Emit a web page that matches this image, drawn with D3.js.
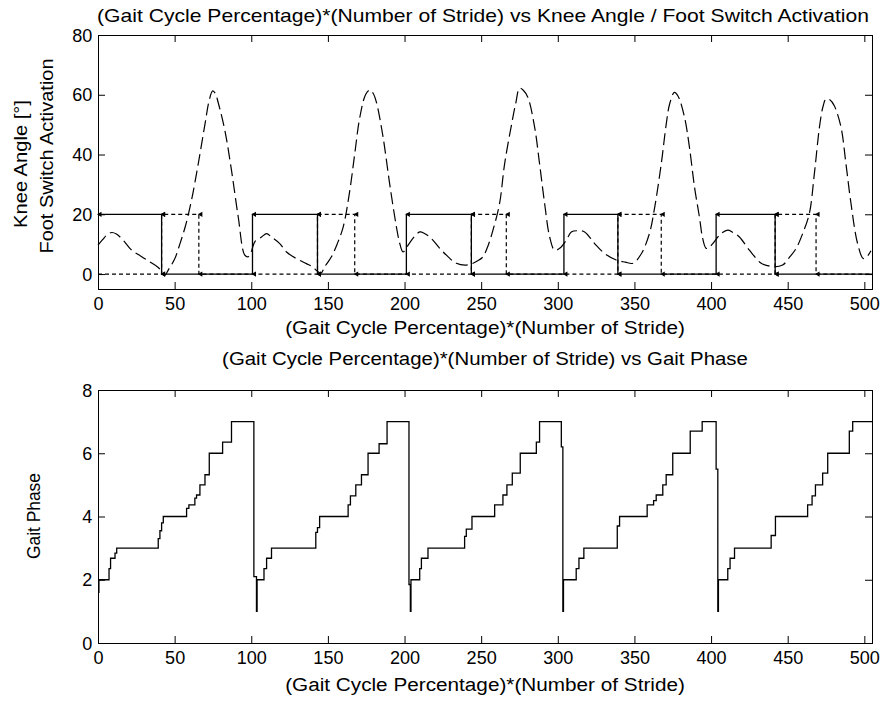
<!DOCTYPE html>
<html>
<head>
<meta charset="utf-8">
<title>Gait Cycle vs Knee Angle / Gait Phase</title>
<style>
  html, body { margin: 0; padding: 0; background: #fff; }
  svg text { font-family: "Liberation Sans", Arial, sans-serif; fill: #000; }
</style>
</head>
<body>
<script src="https://cdnjs.cloudflare.com/ajax/libs/d3/7.8.5/d3.min.js"></script>
<div id="chart"></div>
<script>

// tick values
var xTicks = [0, 50, 100, 150, 200, 250, 300, 350, 400, 450, 500]
var kneeTicks = [0, 20, 40, 60, 80]
var phaseTicks = [0, 2, 4, 6, 8]

// knee angle [deg]: [x, angle]
var kneeAngle = [
  [0,9.7],[3,11.5],[6,13.2],[9,13.9],[12,13.4],[16.5,11.3],[22,8],[28,6],[34,4],[39.3,2.2],
  [42,0.5],[43.5,-0.5],[46,1.5],[50,5],[53.5,10.2],[57,16],[61,24.7],[65.4,36.9],[69.8,50.2],
  [72.5,58],[74.8,61.3],[76.5,60.5],[78.4,57.4],[82.8,48],[87.1,34.7],[91.5,19.1],[95.8,6.3],
  [98,5.8],[100,7.5],[102.3,10.8],[106.7,12.4],[110,13.5],[113.2,12.4],[118.6,10.2],[123,7.4],
  [130,5],[136,3.5],[140,2.4],[143,1.0],[145.5,0.3],[148,2.5],[152.3,5.8],[156,10],[160,15.8],
  [164.3,28],[167.5,40.2],[170.8,52.4],[174.7,60.2],[177.3,61.6],[179.5,60.5],[181.7,57.4],
  [186,45.8],[190.3,30.2],[194.7,15.8],[197,10],[199,7.4],[201.5,9],[204.5,11.3],[209.9,14.1],
  [213,13.6],[217.5,11.9],[223,8.6],[228,6],[233.8,3.6],[240.3,3],[244.7,3.6],[248,4.5],
  [251.2,5.8],[254.5,9.5],[257.7,14.7],[262,23.6],[265.3,36.9],[269.7,49.7],[272.5,57],
  [275.1,62.2],[277.5,61.5],[280.5,59.1],[284.9,49.1],[288.1,36.9],[291.4,23.6],[294.7,12.4],
  [297.9,8],[301.2,8.6],[305.5,11.3],[308.8,14.1],[313,14.5],[317.5,14.1],[324,10.2],[330.5,6.9],
  [338.1,4.7],[344,4],[349,3.6],[354.4,6.7],[359.8,13.6],[363.1,22],[367.5,36.9],[370.7,50],
  [373,57],[376.1,60.8],[378.5,59.5],[382.7,52.4],[385.9,42.4],[389.2,29.1],[392.4,19.1],
  [394.5,12],[396.8,8.6],[399,9],[401.1,10.2],[406.6,13.6],[410.9,14.7],[414,14],[418.5,12.4],
  [425,8],[432.7,3.6],[437,2.8],[441.3,2.4],[446.7,3],[451,5.5],[455.5,8.6],[459.8,13.6],
  [464.1,20.2],[467.4,33.6],[470.7,49.1],[473,56],[475,58.6],[477.5,58.3],[480.4,56.3],
  [484.8,49.1],[488,36.9],[491.3,23.6],[495.6,10.2],[499.3,5.2],[502,6],[504.3,7.8]
]

// foot switch signals, value holds from x until next x
var footSwitchA = [
  [0,20],[41.5,0],[100.8,20],[143.2,0],[201.2,20],[243.6,0],[304,20],[339.2,0],[403.3,20],[441.8,0],[505,0]
]
var footSwitchB = [
  [0,0],[41.5,20],[65.8,0],[143.2,20],[167.5,0],[243.6,20],[266.4,0],[339.2,20],[367.5,0],[441.8,20],[468.5,0],[505,0]
]

// gait phase steps: value holds from x until next x
var gaitPhase = [
  [0,1.6],[0.6,2],[7.2,2.35],[8.2,2.68],[11.1,2.84],[12.2,3],[39.3,3.3],[40.4,3.55],[41.5,3.8],[42.6,4],
  [57.8,4.26],[59.3,4.37],[63.2,4.58],[64.3,4.68],[66.5,5],[69.8,5.32],[72.6,6],[81.3,6.35],[87.1,7],
  [101.7,2.1],[103.4,1.0],[103.8,2],[108.3,2.35],[110,2.68],[113.2,3],
  [142.1,3.5],[143.2,3.65],[144.6,4],[163.2,4.37],[164.7,4.65],[168.2,5],[171.9,5.32],[176.2,6],
  [183.4,6.3],[188.6,7],[202.9,1.85],[203.8,1.0],[204.2,2],[209.9,2.35],[211,2.68],[215.3,3],
  [239.2,3.37],[240.3,3.6],[244,4],[258.8,4.37],[264.2,4.68],[266.8,5],[270.3,5.37],[275.5,6],
  [286,6.35],[288.1,7],[302.3,6.2],[303.3,1.0],[303.7,2],[312,2.35],[313.8,2.68],[317,3],
  [338.8,3.7],[340.3,4],[358.3,4.37],[362.5,4.5],[364.2,4.68],[368.5,5],[370.7,5.32],[375,6],
  [386.4,6.7],[394.2,7],[403.3,5.5],[404.4,1.0],[404.8,2],[410.9,2.35],[412.4,2.68],[415.3,3],
  [439.2,3.4],[442,4],[463,4.37],[465.9,4.65],[468.1,5],[472.8,5.37],[476.1,6],[490.2,6.7],
  [492.4,7],[505,7]
]


var width = 882, height = 706

var svg = d3.select('#chart').append('svg')
  .attr('width', width)
  .attr('height', height)

svg.append('rect').attr('width', width).attr('height', height).attr('fill', '#fff')

// scales
var x1 = d3.scaleLinear().domain([0, 505]).range([98, 872])
var y1 = d3.scaleLinear().domain([-5, 80]).range([289, 35])
var x2 = d3.scaleLinear().domain([0, 505]).range([98, 872])
var y2 = d3.scaleLinear().domain([0, 8]).range([643, 390])


// matlab style box with inward ticks
function drawAxes(x, y, yTicks) {
  var g = svg.append('g')
  var x0 = x.range()[0], xe = x.range()[1]
  var y0 = y.range()[0], ye = y.range()[1]

  g.append('g').attr('transform', 'translate(0,' + y0 + ')')
    .call(d3.axisBottom(x).tickValues(xTicks).tickSize(-7).tickSizeOuter(0).tickPadding(8))
    .call(a => a.select('.domain').remove())
  g.append('g').attr('transform', 'translate(0,' + ye + ')')
    .call(d3.axisTop(x).tickValues(xTicks).tickSize(-7).tickSizeOuter(0).tickFormat(''))
    .call(a => a.select('.domain').remove())
  g.append('g').attr('transform', 'translate(' + x0 + ',0)')
    .call(d3.axisLeft(y).tickValues(yTicks).tickSize(-7).tickSizeOuter(0).tickPadding(6))
    .call(a => a.select('.domain').remove())
  g.append('g').attr('transform', 'translate(' + xe + ',0)')
    .call(d3.axisRight(y).tickValues(yTicks).tickSize(-7).tickSizeOuter(0).tickFormat(''))
    .call(a => a.select('.domain').remove())

  g.selectAll('.tick text')
    .style('font-size', '19px')
    .attr('transform', 'scale(0.95,1)')
  g.selectAll('.tick line').attr('stroke', '#000')

  g.append('rect')
    .attr('x', x0 + 0.5).attr('y', ye + 0.5)
    .attr('width', xe - x0).attr('height', y0 - ye)
    .attr('fill', 'none')
    .attr('stroke', '#000')
    .attr('stroke-width', 1)
}

// centred text, squeezed along its own direction to a given length
function label(txt, x, y, len, rot) {
  var t = svg.append('text')
    .attr('text-anchor', 'middle')
    .style('font-size', '19px')
    .text(txt)
  var s = len ? len / t.node().getComputedTextLength() : 1
  t.attr('transform', 'translate(' + x + ',' + y + ')' + (rot ? ' rotate(-90)' : '') + ' scale(' + s + ',1)')
}


// ---- top plot ----
drawAxes(x1, y1, kneeTicks)

var stepLine1 = d3.line()
  .x(d => x1(d[0]))
  .y(d => y1(d[1]))
  .curve(d3.curveStepAfter)

svg.append('path')
  .datum(footSwitchB)
  .attr('d', stepLine1)
  .attr('fill', 'none')
  .attr('stroke', '#000')
  .attr('stroke-width', 1.2)
  .attr('stroke-dasharray', '4,3')

svg.append('path')
  .datum(footSwitchA)
  .attr('d', stepLine1)
  .attr('fill', 'none')
  .attr('stroke', '#000')
  .attr('stroke-width', 1.3)

// little markers at the switch corners
var corners = []
;[footSwitchA, footSwitchB].forEach(function(s) {
  for (var i = 1; i < s.length - 1; i++) {
    corners.push([s[i][0], s[i - 1][1]])
    corners.push([s[i][0], s[i][1]])
  }
})
corners.push(footSwitchA[0])

svg.append('g').selectAll('path')
  .data(corners)
  .enter()
  .append('path')
  .attr('d', d3.symbol().type(d3.symbolTriangle).size(12))
  .attr('transform', d => 'translate(' + (x1(d[0]) + 2) + ',' + y1(d[1]) + ') rotate(-90)')
  .attr('fill', '#000')

svg.append('path')
  .datum(kneeAngle)
  .attr('d', d3.line()
    .x(d => x1(d[0]))
    .y(d => y1(d[1]))
    .curve(d3.curveCatmullRom.alpha(0.5)))
  .attr('fill', 'none')
  .attr('stroke', '#000')
  .attr('stroke-width', 1.2)
  .attr('stroke-dasharray', '12,5')

label('(Gait Cycle Percentage)*(Number of Stride) vs Knee Angle / Foot Switch Activation', 483, 22, 772)
label('(Gait Cycle Percentage)*(Number of Stride)', 485, 334, 400)
label('Knee Angle [\u00b0]', 27, 164, 128, true)
label('Foot Switch Activation', 53, 156, 195, true)


// ---- bottom plot ----
drawAxes(x2, y2, phaseTicks)

svg.append('path')
  .datum(gaitPhase)
  .attr('d', d3.line()
    .x(d => x2(d[0]))
    .y(d => y2(d[1]))
    .curve(d3.curveStepAfter))
  .attr('fill', 'none')
  .attr('stroke', '#000')
  .attr('stroke-width', 1.3)

label('(Gait Cycle Percentage)*(Number of Stride) vs Gait Phase', 485, 365, 526)
label('(Gait Cycle Percentage)*(Number of Stride)', 485, 691, 400)
label('Gait Phase', 40, 516, 86, true)

</script>
</body>
</html>
